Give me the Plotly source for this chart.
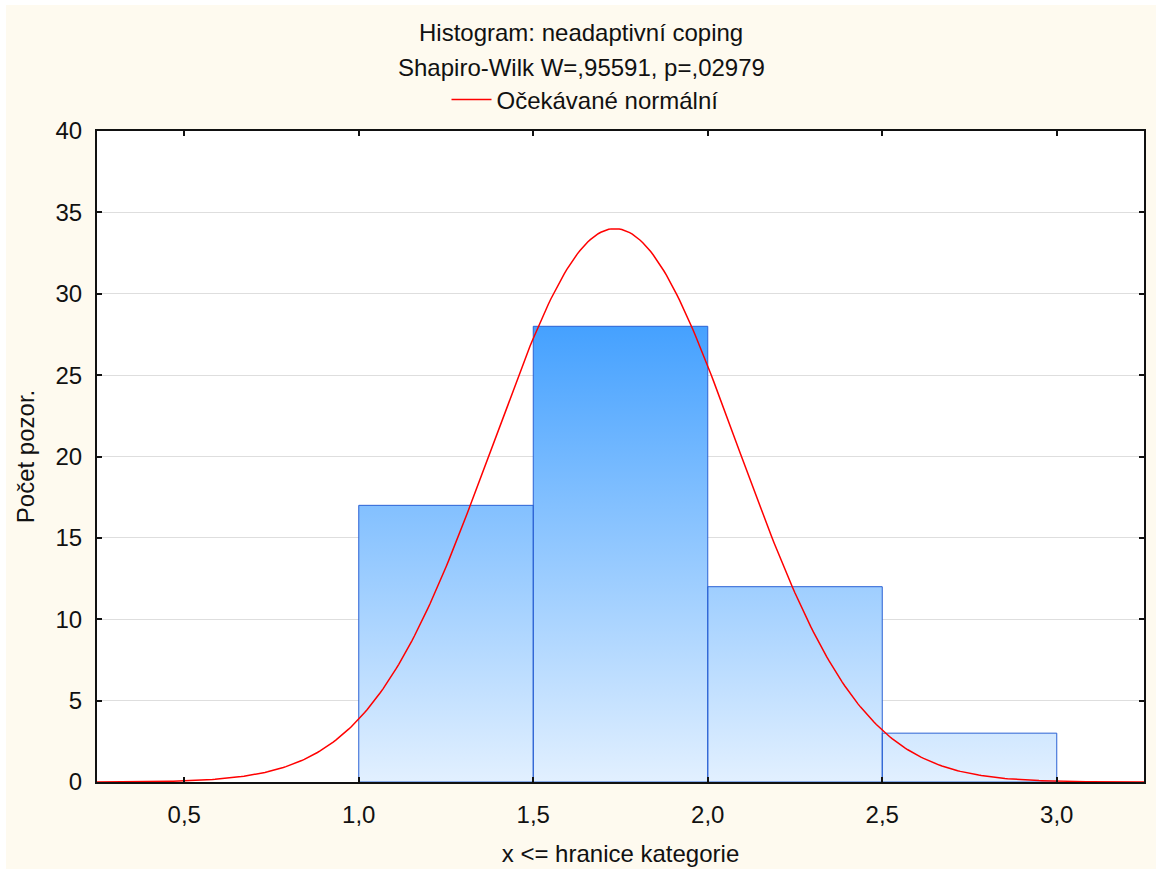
import numpy as np
import plotly.graph_objects as go

# ---- data ----
bin_edges = [1.0, 1.5, 2.0, 2.5, 3.0]
counts = [17, 28, 12, 3]
n_obs = 60
mean_val = 1.734
sd_val = 0.352
bin_width = 0.5
x_ticks = [0.5, 1.0, 1.5, 2.0, 2.5, 3.0]
x_tick_labels = ["0,5", "1,0", "1,5", "2,0", "2,5", "3,0"]
y_ticks = [0, 5, 10, 15, 20, 25, 30, 35, 40]

title_line1 = "Histogram: neadaptivní coping"
title_line2 = "Shapiro-Wilk W=,95591, p=,02979"
legend_label = "Očekávané normální"
x_title = "x <= hranice kategorie"
y_title = "Počet pozor."

FONT = "Liberation Sans, Arial, sans-serif"
FS = 24
W, H = 1156, 869
ML, MR, MT, MB = 97, 12, 131, 87

# ---- bars as filled polygons with vertical gradient ----
bx, by = [], []
for i, c in enumerate(counts):
    x0, x1 = bin_edges[i], bin_edges[i + 1]
    bx += [x0, x0, x1, x1, x0, None]
    by += [0, c, c, 0, 0, None]

fig = go.Figure()
fig.add_trace(go.Scatter(
    x=bx, y=by, mode="lines", fill="toself",
    line=dict(color="#2B62D4", width=1),
    fillgradient=dict(type="vertical", start=0, stop=max(counts),
                      colorscale=[[0, "#E2F0FF"], [1, "#45A1FF"]]),
    showlegend=False, hoverinfo="skip",
))

# ---- expected normal curve ----
xc = np.linspace(0.25, 3.25, 400)
yc = n_obs * bin_width / (sd_val * np.sqrt(2 * np.pi)) * np.exp(-0.5 * ((xc - mean_val) / sd_val) ** 2)
fig.add_trace(go.Scatter(
    x=xc, y=yc, mode="lines", line=dict(color="#FF0000", width=1.5),
    name=legend_label, showlegend=True,
))

plot_w = W - ML - MR
plot_h = H - MT - MB
def px_to_paper_x(px):
    return (px - ML) / plot_w
def py_to_paper_y(py):
    return (H - MB - py) / plot_h

cx = px_to_paper_x(581)
fig.add_annotation(text=title_line1, xref="paper", yref="paper",
                   x=cx, y=py_to_paper_y(33), xanchor="center", yanchor="middle",
                   showarrow=False, font=dict(family=FONT, size=FS, color="#111111"))
fig.add_annotation(text=title_line2, xref="paper", yref="paper",
                   x=cx, y=py_to_paper_y(67), xanchor="center", yanchor="middle",
                   showarrow=False, font=dict(family=FONT, size=FS, color="#111111"))

# white strips at the left/top edges
fig.add_shape(type="rect", xref="paper", yref="paper",
              x0=px_to_paper_x(-5), x1=px_to_paper_x(6),
              y0=py_to_paper_y(H + 5), y1=py_to_paper_y(-5),
              fillcolor="white", line_width=0, layer="above")
fig.add_shape(type="rect", xref="paper", yref="paper",
              x0=px_to_paper_x(-5), x1=px_to_paper_x(W + 5),
              y0=py_to_paper_y(5), y1=py_to_paper_y(-5),
              fillcolor="white", line_width=0, layer="above")

fig.update_layout(
    width=W, height=H,
    margin=dict(l=ML, r=MR, t=MT, b=MB, autoexpand=False),
    paper_bgcolor="#FEFAEF",
    plot_bgcolor="white",
    font=dict(family=FONT, size=FS, color="#111111"),
    showlegend=True,
    legend=dict(orientation="h", x=px_to_paper_x(585), xanchor="center",
                y=py_to_paper_y(100), yanchor="middle",
                bgcolor="rgba(0,0,0,0)", font=dict(family=FONT, size=FS),
                itemwidth=40),
    xaxis=dict(range=[0.25, 3.25], tickvals=x_ticks, ticktext=x_tick_labels,
               showgrid=False, zeroline=False, showline=True, linecolor="#111111",
               linewidth=2, mirror="ticks", ticks="inside", ticklen=5,
               tickcolor="#111111", tickwidth=1.5, ticklabelstandoff=10,
               automargin=False,
               title=dict(text=x_title, standoff=18, font=dict(size=FS))),
    yaxis=dict(range=[0, 40], tickvals=y_ticks, showgrid=True, gridcolor="#DEDEDE",
               gridwidth=1, zeroline=False, showline=True, linecolor="#111111",
               linewidth=2, mirror="ticks", ticks="inside", ticklen=5,
               tickcolor="#111111", tickwidth=1.5, ticklabelstandoff=8,
               automargin=False,
               title=dict(text=y_title, standoff=14, font=dict(size=FS))),
)

fig.write_html("out.html")
